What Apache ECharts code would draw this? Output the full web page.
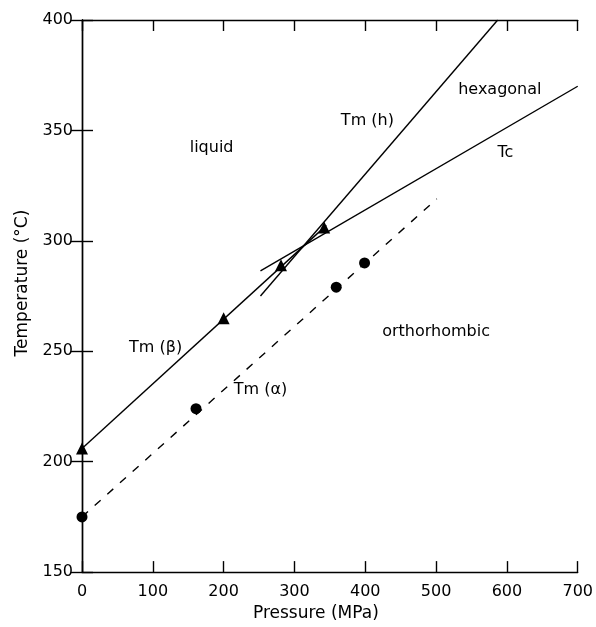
<!DOCTYPE html>
<html>
<head>
<meta charset="utf-8">
<script src="https://cdn.jsdelivr.net/npm/echarts@6/dist/echarts.min.js"></script>
<style>html,body{margin:0;padding:0;background:#fff}#c{width:596px;height:627px}</style>
</head>
<body>
<div id="c"></div>
<script>
// Data (Pressure MPa, Temperature °C)
var xTicks = [0, 100, 200, 300, 400, 500, 600, 700];
var yTicks = [150, 200, 250, 300, 350, 400];
var tmBetaLine = [[0, 206], [345, 307]];
var tmHexLine = [[252, 275], [587, 400]];
var tcLine = [[252, 286.4], [700, 370]];
var tmAlphaLine = [[0, 175], [501, 319]];
var triangles = [[0, 206], [200, 265], [281, 289], [342, 306]];
var circles = [[0, 175], [161, 224], [359, 279], [399, 290]];
var labelNames = ['liquid', 'Tm (h)', 'hexagonal', 'Tc', 'Tm (β)', 'Tm (α)', 'orthorhombic'];
var labelCoords = [[183, 342], [403, 354.5], [590, 368.5], [598, 340], [104, 251.5], [252, 232.5], [500, 259]];

var FONT = '"DejaVu Sans", sans-serif';
var chart = echarts.init(document.getElementById('c'), null, {renderer: 'canvas'});
var axisLine = {show: true, lineStyle: {color: '#000', width: 1.4}};
var axisTick = {show: true, inside: true, length: 11, lineStyle: {color: '#000', width: 1.4}};
var lineStyle = {color: '#000', width: 1.4};

chart.setOption({
  animation: false,
  backgroundColor: '#fff',
  grid: {left: 82, right: 17, top: 20, bottom: 48},
  xAxis: [{
    type: 'value', min: xTicks[0], max: xTicks[xTicks.length - 1], interval: 100,
    position: 'bottom',
    name: 'Pressure (MPa)', nameLocation: 'middle', nameGap: 32,
    nameTextStyle: {fontFamily: FONT, fontSize: 17, color: '#000', padding: [0, 28, 0, 0]},
    axisLine: axisLine, axisTick: axisTick, splitLine: {show: false},
    axisLabel: {fontFamily: FONT, fontSize: 16, color: '#000', margin: 12}
  }, {
    type: 'value', min: xTicks[0], max: xTicks[xTicks.length - 1], interval: 100,
    position: 'top',
    axisLine: axisLine, axisTick: axisTick, splitLine: {show: false},
    axisLabel: {show: false}
  }],
  yAxis: [{
    type: 'value', min: yTicks[0], max: yTicks[yTicks.length - 1], interval: 50,
    position: 'left',
    name: 'Temperature (°C)', nameLocation: 'middle', nameGap: 50,
    nameTextStyle: {fontFamily: FONT, fontSize: 17, color: '#000', padding: [0, 0, 0, 26]},
    axisLine: axisLine, axisTick: axisTick, splitLine: {show: false},
    axisLabel: {fontFamily: FONT, fontSize: 16, color: '#000', margin: 9}
  }, {
    type: 'value', min: yTicks[0], max: yTicks[yTicks.length - 1], interval: 50,
    position: 'right',
    axisLine: axisLine, axisTick: axisTick, splitLine: {show: false},
    axisLabel: {show: false}
  }],
  series: [
    {type: 'line', name: 'Tm (β)', data: tmBetaLine, showSymbol: false, lineStyle: lineStyle, z: 2},
    {type: 'line', name: 'Tm (h)', data: tmHexLine, showSymbol: false, lineStyle: lineStyle, z: 2},
    {type: 'line', name: 'Tc', data: tcLine, showSymbol: false, lineStyle: lineStyle, z: 2},
    {type: 'line', name: 'Tm (α)', data: tmAlphaLine, showSymbol: false,
      lineStyle: {color: '#000', width: 1.4, type: [8, 9]}, z: 2},
    {type: 'scatter', name: 'β points', data: triangles, symbol: 'triangle', symbolSize: 12,
      itemStyle: {color: '#000', opacity: 1}, z: 3},
    {type: 'scatter', name: 'α points', data: circles, symbol: 'circle', symbolSize: 11,
      itemStyle: {color: '#000', opacity: 1}, z: 3},
    {type: 'scatter', name: 'labels',
      data: labelNames.map(function (n, i) { return {name: n, value: labelCoords[i]}; }),
      symbolSize: 0, silent: true, itemStyle: {opacity: 1},
      label: {show: true, position: 'inside', formatter: '{b}', fontFamily: FONT, fontSize: 16, color: '#000', opacity: 1},
      z: 4}
  ]
});
</script>
</body>
</html>
